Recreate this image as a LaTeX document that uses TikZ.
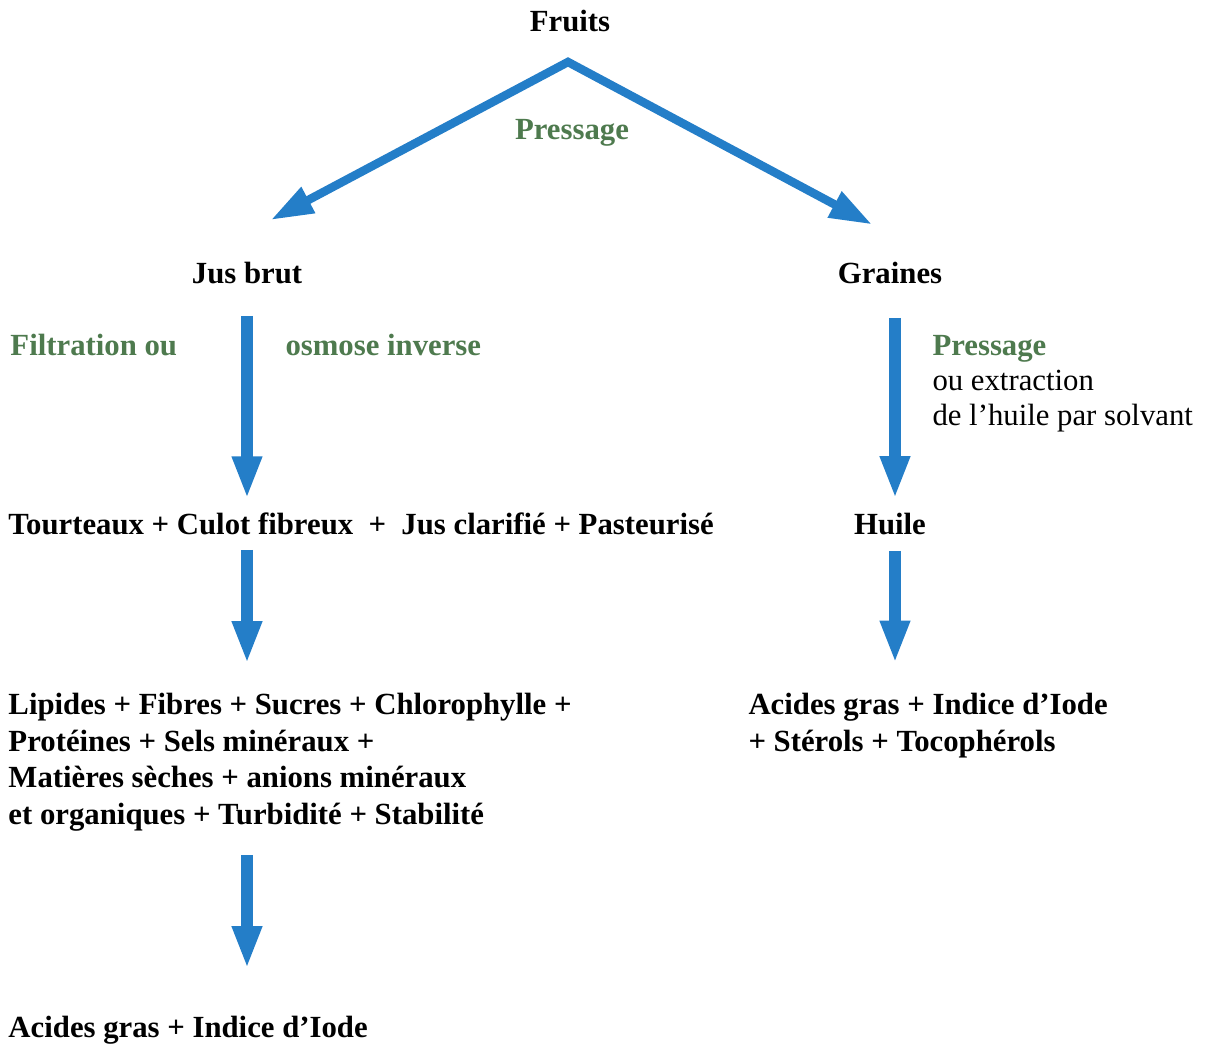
\documentclass[tikz,border=0pt]{standalone}
\usepackage{fontspec}
\setmainfont{Liberation Serif}
\usepackage{xcolor}
\usetikzlibrary{arrows.meta,positioning,calc}
\definecolor{flowblue}{RGB}{36,126,200}
\definecolor{stepgreen}{RGB}{78,122,78}

\begin{document}
\begin{tikzpicture}[x=0.4pt,y=-0.4pt,
  txt/.style={font=\fontsize{12.3}{14.6}\selectfont\bfseries,inner sep=0pt,align=left},
  lbl/.style={font=\fontsize{12.3}{14}\selectfont\bfseries,text=stepgreen,inner sep=0pt},
  note/.style={font=\fontsize{12.3}{14}\selectfont,inner sep=0pt,align=left},
  flow/.style={draw=flowblue,line width=4.8pt,-{Triangle[width=11pt,length=17pt]}},
  >=Stealth]
\useasboundingbox (0,0) rectangle (1208,1045);
% left branch
\node[txt,anchor=base] (fruits) at (570,32) {Fruits};
\node[lbl,anchor=base] (press1) at (572,140) {Pressage};
\node[txt,anchor=base] (jus) at (247,284) {Jus brut};
\node[lbl,anchor=base west] (filt) at (10,356) {Filtration ou};
\node[lbl,anchor=base west] (osmose) at (285,356) {osmose inverse};
\node[txt,anchor=base west] (tourt) at (8,535)
  {Tourteaux + Culot fibreux\ \ +\ \ Jus clarifié + Pasteurisé};
\node[txt,anchor=base west] (lipides) at (8,824)
  {Lipides + Fibres + Sucres + Chlorophylle +\\
   Protéines + Sels minéraux +\\
   Matières sèches + anions minéraux\\
   et organiques + Turbidité + Stabilité};
\node[txt,anchor=base west] (acidesL) at (8,1037) {Acides gras + Indice d'Iode};
% right branch
\node[txt,anchor=base] (graines) at (890,284) {Graines};
\node[lbl,anchor=base west] (press2) at (932,356) {Pressage};
\node[note,anchor=base west] (extr) at (932,426) {ou extraction\\de l'huile par solvant};
\node[txt,anchor=base] (huile) at (890,535) {Huile};
\node[txt,anchor=base west] (acidesR) at (748,751)
  {Acides gras + Indice d'Iode\\+ Stérols + Tocophérols};

\coordinate (split) at (568,62);
\draw[flow,line width=3.4pt,line join=miter,
  {Triangle[width=11pt,length=17pt]}-{Triangle[width=11pt,length=17pt]},
  shorten <=36pt,shorten >=32pt] (jus.north west) -- (split) -- (graines.north east);

\draw[flow,shorten <=12.4pt,shorten >=5.6pt] (jus.south) -- (jus |- tourt.north);
\draw[flow,shorten <=5.6pt,shorten >=11.6pt] (jus |- tourt.south) -- (jus |- lipides.north);
\draw[flow,shorten <=9.6pt,shorten >=18.6pt] (jus |- lipides.south) -- (jus |- acidesL.north);
\draw[flow,shorten <=13.2pt,shorten >=5.8pt]
  ([xshift=2pt]graines.south) -- ([xshift=2pt]graines.south |- huile.north);
\draw[flow,shorten <=6pt,shorten >=11.8pt]
  ([xshift=2pt]huile.south) -- ([xshift=2pt]huile.south |- acidesR.north);
\end{tikzpicture}
\end{document}
